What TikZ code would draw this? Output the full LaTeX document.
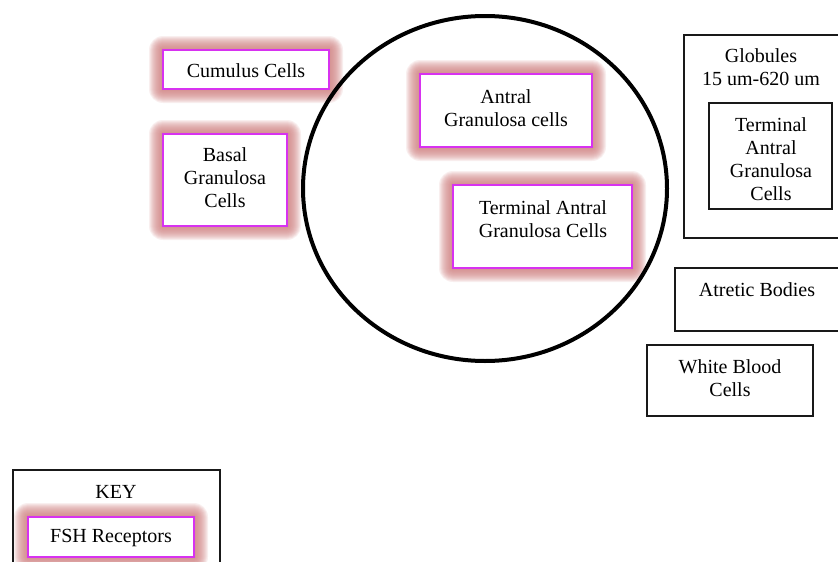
\documentclass[tikz,border=0pt]{standalone}
\usepackage{fontspec}
\usetikzlibrary{shapes.geometric}
\setmainfont{Liberation Serif}
\definecolor{glowc}{RGB}{205,125,125}
\definecolor{magbord}{RGB}{215,50,240}
\definecolor{boxline}{RGB}{25,25,25}
\newcommand\glowbox[4]{%
  \foreach \i in {1,...,14}{%
    \fill[glowc,opacity=0.12,rounded corners=\i] (#1-\i,#2-\i) rectangle (#3+\i,#4+\i);}}
\begin{document}
\begin{tikzpicture}[x=1pt,y=-1pt,
  txt/.style={font=\fontsize{20}{23}\selectfont, align=center, inner sep=0pt},
  mbox/.style={draw=magbord, line width=1.5pt, fill=white, inner sep=0pt},
  kbox/.style={draw=boxline, line width=1.3pt, inner sep=0pt},
  ring/.style={draw=black, line width=4pt}]
\useasboundingbox (0,0) rectangle (838,562);
\clip (0,0) rectangle (838,562);
% glows
\glowbox{163}{50}{329}{89}
\glowbox{163}{134}{287}{226}
\glowbox{420}{74}{592}{147}
\glowbox{453}{185}{632}{268}
\glowbox{28}{517}{194}{557}
% big circle
\node[ring, ellipse, minimum width=364, minimum height=345, inner sep=0pt] (follicle) at (485,188.5) {};
% magenta boxes
\node[mbox, minimum width=166, minimum height=39] (cumulus) at (246,69.5) {};
\node[txt] (cumulusT) at (246,71) {Cumulus Cells};
\node[mbox, minimum width=124, minimum height=92] (basal) at (225,180) {};
\node[txt] (basalT) at (225,178) {Basal\\Granulosa\\Cells};
\node[mbox, minimum width=172, minimum height=73] (antral) at (506,110.5) {};
\node[txt] (antralT) at (506,108) {Antral\\Granulosa cells};
\node[mbox, minimum width=179, minimum height=83] (terminal) at (542.5,226.5) {};
\node[txt] (terminalT) at (543,219) {Terminal Antral\\Granulosa Cells};
% right side black boxes
\node[kbox, minimum width=160, minimum height=203] (globules) at (764,136.5) {};
\node[txt] (globulesT) at (761,67) {Globules\\15 um-620 um};
\node[kbox, minimum width=123, minimum height=106] (inner) at (770.5,156) {};
\node[txt] (innerT) at (771,159) {Terminal\\Antral\\Granulosa\\Cells};
\node[kbox, minimum width=168, minimum height=63] (atretic) at (759,299.5) {};
\node[txt] (atreticT) at (757,290) {Atretic Bodies};
\node[kbox, minimum width=166, minimum height=71] (wbc) at (730,380.5) {};
\node[txt] (wbcT) at (730,378) {White Blood\\Cells};
% key
\node[kbox, minimum width=207, minimum height=110] (key) at (116.5,525) {};
\node[txt] (keyT) at (116,492) {KEY};
\node[mbox, minimum width=166, minimum height=40] (fsh) at (111,537) {};
\node[txt] (fshT) at (111,538) {FSH Receptors};
\end{tikzpicture}
\end{document}
